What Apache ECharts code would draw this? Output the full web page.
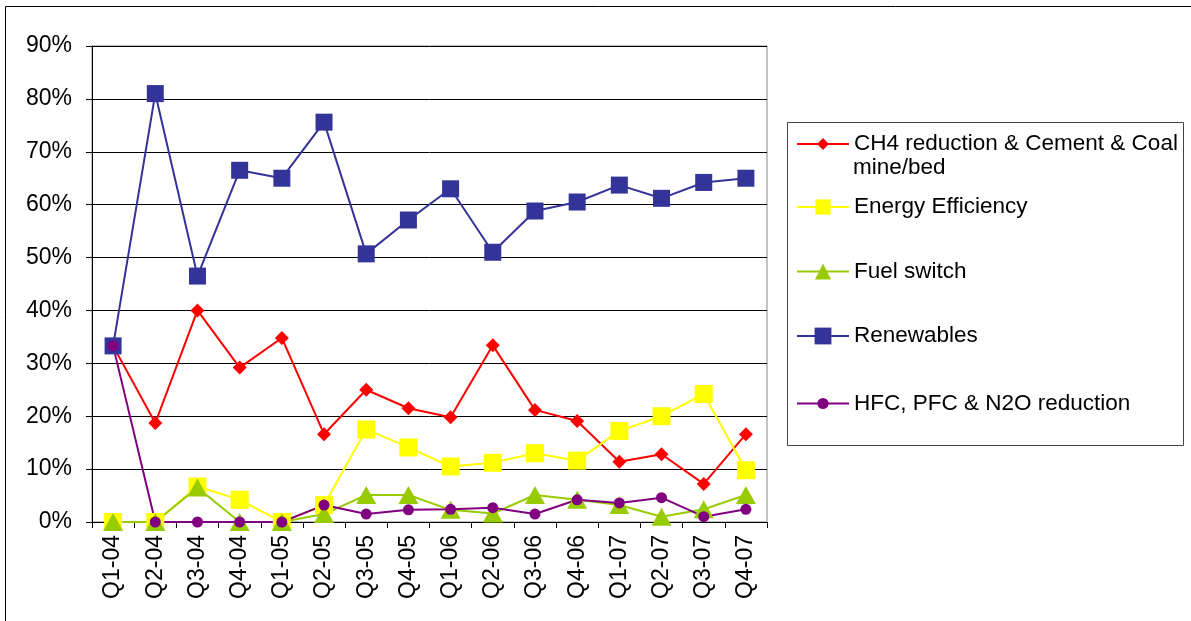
<!DOCTYPE html>
<html>
<head>
<meta charset="utf-8">
<script src="https://cdn.jsdelivr.net/npm/echarts@6/dist/echarts.min.js"></script>
<style>
  html, body { margin: 0; padding: 0; background: #fff; }
  #chart { width: 1191px; height: 621px; }
</style>
</head>
<body>
<div id="chart"></div>
<script>
const categories = ['Q1-04', 'Q2-04', 'Q3-04', 'Q4-04', 'Q1-05', 'Q2-05', 'Q3-05', 'Q4-05',
                    'Q1-06', 'Q2-06', 'Q3-06', 'Q4-06', 'Q1-07', 'Q2-07', 'Q3-07', 'Q4-07'];
const ch4 = [33.3, 18.7, 40.0, 29.2, 34.8, 16.6, 25.0, 21.5, 19.8, 33.4, 21.2, 19.1, 11.4, 12.8, 7.2, 16.6];
const energyEff = [0, 0, 6.7, 4.2, 0, 3.2, 17.5, 14.1, 10.5, 11.2, 13.0, 11.6, 17.2, 20.0, 24.2, 9.8];
const fuelSwitch = [0, 0, 6.5, 0, 0, 1.5, 5.1, 5.1, 2.3, 1.6, 5.1, 4.2, 3.2, 1.0, 2.4, 5.1];
const renewables = [33.3, 81.0, 46.5, 66.5, 65.0, 75.6, 50.7, 57.1, 63.0, 51.0, 58.8, 60.5, 63.7, 61.2, 64.2, 65.0];
const hfc = [33.3, 0, 0, 0, 0, 3.2, 1.5, 2.3, 2.4, 2.7, 1.5, 4.2, 3.6, 4.6, 1.0, 2.4];

const FONT = '"Liberation Sans", Arial, sans-serif';

const chart = echarts.init(document.getElementById('chart'));

// one legend per entry so each row sits where the original has it
function legendFor(name, centerY, h, extra) {
    return Object.assign({
        data: [name],
        left: 796,
        top: centerY - h / 2,
        padding: 0,
        itemWidth: 52,
        itemHeight: h,
        selectedMode: false,
        textStyle: { fontFamily: FONT, fontSize: 22.5, color: '#000' }
    }, extra || {});
}

const seriesNames = [
    'CH4 reduction & Cement & Coal mine/bed',
    'Energy Efficiency',
    'Fuel switch',
    'Renewables',
    'HFC, PFC & N2O reduction'
];

const option = {
    animation: false,
    backgroundColor: '#fff',
    grid: {
        left: 92, top: 46, width: 675, height: 476,
        show: true, borderColor: '#888', borderWidth: 1
    },
    xAxis: {
        type: 'category',
        data: categories,
        boundaryGap: true,
        axisLine: { lineStyle: { color: '#000', width: 1 } },
        axisTick: { show: true, length: 6, interval: 0, lineStyle: { color: '#000' } },
        axisLabel: {
            interval: 0, rotate: 90, margin: 13,
            fontFamily: FONT, fontSize: 23, color: '#000'
        },
        splitLine: { show: false }
    },
    yAxis: {
        type: 'value',
        min: 0, max: 90, interval: 10,
        axisLine: { show: true, lineStyle: { color: '#000', width: 1 } },
        axisTick: { show: true, length: 6, lineStyle: { color: '#000' } },
        axisLabel: {
            formatter: '{value}%', margin: 20,
            fontFamily: FONT, fontSize: 23, color: '#000'
        },
        splitLine: { show: true, lineStyle: { color: '#000', width: 1 } }
    },
    legend: [
        legendFor(seriesNames[0], 140, 15, { formatter: () => 'CH4 reduction & Cement & Coal' }),
        legendFor(seriesNames[1], 205, 19),
        legendFor(seriesNames[2], 270, 20),
        legendFor(seriesNames[3], 335, 21),
        legendFor(seriesNames[4], 399, 14)
    ],
    graphic: [
        {
            type: 'rect', silent: true,
            shape: { x: 5.5, y: 6.5, width: 1300, height: 700 },
            style: { fill: 'none', stroke: '#000', lineWidth: 1 }
        },
        {
            type: 'rect', silent: true,
            shape: { x: 787.5, y: 122.5, width: 396, height: 323 },
            style: { fill: '#fff', stroke: '#444', lineWidth: 1 },
            z: -1
        },
        {
            type: 'text', silent: true,
            left: 853, top: 156,
            style: { text: 'mine/bed', font: '22.5px ' + FONT, fill: '#000' }
        }
    ],
    series: [
        {
            name: seriesNames[0], type: 'line', data: ch4,
            symbol: 'diamond', symbolSize: 14,
            lineStyle: { color: '#ff0000', width: 2 },
            itemStyle: { color: '#ff0000' }
        },
        {
            name: seriesNames[1], type: 'line', data: energyEff,
            symbol: 'rect', symbolSize: 18,
            lineStyle: { color: '#ffff00', width: 2 },
            itemStyle: { color: '#ffff00' }
        },
        {
            name: seriesNames[2], type: 'line', data: fuelSwitch,
            symbol: 'triangle', symbolSize: [20, 18],
            lineStyle: { color: '#99cc00', width: 2 },
            itemStyle: { color: '#99cc00' }
        },
        {
            name: seriesNames[3], type: 'line', data: renewables,
            symbol: 'rect', symbolSize: 17,
            lineStyle: { color: '#333399', width: 2 },
            itemStyle: { color: '#333399' }
        },
        {
            name: seriesNames[4], type: 'line', data: hfc,
            symbol: 'circle', symbolSize: 11,
            lineStyle: { color: '#800080', width: 2 },
            itemStyle: { color: '#800080' }
        }
    ]
};

chart.setOption(option);
window.addEventListener('resize', () => chart.resize());
</script>
</body>
</html>
